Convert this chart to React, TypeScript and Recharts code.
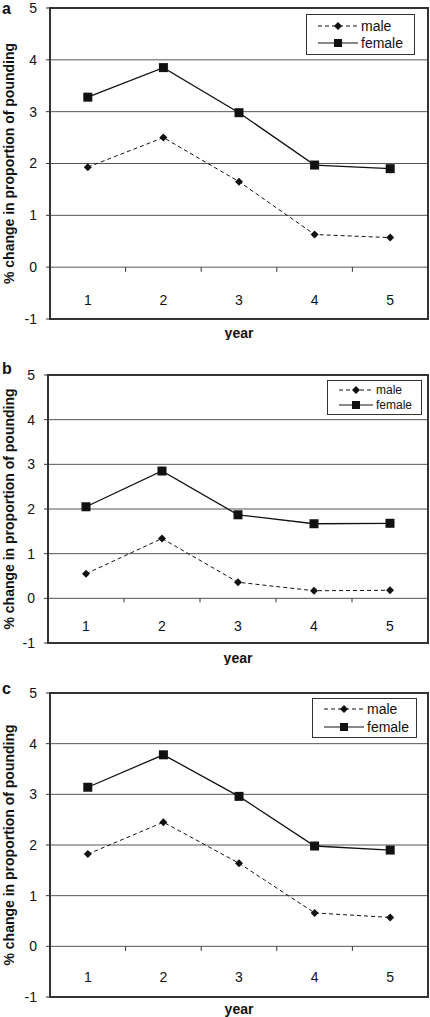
import React from 'react';
import {
  LineChart,
  Line,
  XAxis,
  YAxis,
  CartesianGrid,
  Legend,
  ReferenceArea,
  ReferenceLine,
} from 'recharts';

// values (a, b, c)
const YEARS = [1, 2, 3, 4, 5];
const Y_TICKS = [-1, 0, 1, 2, 3, 4, 5];
const MALE_A = [1.93, 2.5, 1.65, 0.63, 0.57];
const FEMALE_A = [3.28, 3.85, 2.98, 1.97, 1.9];
const MALE_B = [0.55, 1.34, 0.36, 0.17, 0.18];
const FEMALE_B = [2.05, 2.85, 1.87, 1.67, 1.68];
const MALE_C = [1.82, 2.45, 1.64, 0.66, 0.57];
const FEMALE_C = [3.14, 3.78, 2.96, 1.98, 1.9];
const Y_TITLE = '% change in proportion of pounding';
const X_TITLE = 'year';

const FONT = '"Liberation Sans", Arial, sans-serif';
const INK = '#111';

// tick marks sit between the years on the zero line
const BOUNDARIES = YEARS.slice(1).map((y) => y - 0.5);

const Diamond = (props: any) => {
  const { cx, cy } = props;
  if (cx == null || cy == null) return null;
  const r = 4;
  return (
    <polygon
      points={`${cx},${cy - r} ${cx + r},${cy} ${cx},${cy + r} ${cx - r},${cy}`}
      fill={INK}
    />
  );
};

const Square = (props: any) => {
  const { cx, cy } = props;
  if (cx == null || cy == null) return null;
  return <rect x={cx - 4.5} y={cy - 4.5} width={9} height={9} fill={INK} />;
};

const XTick = (props: any) => {
  const { x, y, payload, shift } = props;
  return (
    <text
      x={x}
      y={y + shift}
      textAnchor="middle"
      dominantBaseline="central"
      fontSize={14}
      fontFamily={FONT}
      fill={INK}
    >
      {payload.value}
    </text>
  );
};

const YTitle = (props: any) => {
  const vb = props.viewBox || { x: 0, y: 0, width: 50, height: 300 };
  const cx = 9;
  const cy = vb.y + vb.height / 2;
  return (
    <text
      x={cx}
      y={cy}
      transform={`rotate(-90 ${cx} ${cy})`}
      textAnchor="middle"
      dominantBaseline="central"
      fontSize={14}
      fontWeight="bold"
      fontFamily={FONT}
      fill={INK}
    >
      {Y_TITLE}
    </text>
  );
};

const XTitle = (props: any) => {
  const vb = props.viewBox || { x: 0, y: 0, width: 0, height: 0 };
  return (
    <text
      x={vb.x + vb.width / 2}
      y={vb.y + props.gap}
      textAnchor="middle"
      dominantBaseline="central"
      fontSize={14}
      fontWeight="bold"
      fontFamily={FONT}
      fill={INK}
    >
      {X_TITLE}
    </text>
  );
};

const LegendBox = (props: any) => {
  const { fontSize, sample } = props;
  const rows = [
    { label: 'male', dash: '4 3', marker: 'diamond' },
    { label: 'female', dash: undefined, marker: 'square' },
  ];
  return (
    <div
      style={{
        border: '1px solid #333',
        background: '#fff',
        boxSizing: 'border-box',
        width: '100%',
        height: '100%',
        display: 'flex',
        flexDirection: 'column',
        justifyContent: 'space-evenly',
        paddingLeft: 11,
        fontFamily: FONT,
        fontSize,
        color: INK,
      }}
    >
      {rows.map((r) => (
        <div key={r.label} style={{ display: 'flex', alignItems: 'center', lineHeight: 1 }}>
          <svg width={sample} height={10} style={{ marginRight: 3 }}>
            <line x1={0} y1={5} x2={sample} y2={5} stroke={INK} strokeWidth={1.2} strokeDasharray={r.dash} />
            {r.marker === 'diamond' ? (
              <polygon
                points={`${sample / 2},1 ${sample / 2 + 4},5 ${sample / 2},9 ${sample / 2 - 4},5`}
                fill={INK}
              />
            ) : (
              <rect x={sample / 2 - 4} y={1} width={8} height={8} fill={INK} />
            )}
          </svg>
          <span>{r.label}</span>
        </div>
      ))}
    </div>
  );
};

type PanelProps = {
  letter: string;
  top: number;
  height: number;
  marginTop: number;
  axisHeight: number;
  left: number;
  male: number[];
  female: number[];
  tickShift: number;
  titleGap: number;
  legend: { left: number; top: number; width: number; height: number; fontSize: number; sample: number };
  letterTop: number;
};

function Panel(p: PanelProps) {
  const data = YEARS.map((year, i) => ({ year, male: p.male[i], female: p.female[i] }));
  return (
    <div style={{ position: 'absolute', left: 0, top: p.top, width: 430, height: p.height }}>
      <div
        style={{
          position: 'absolute',
          left: 2,
          top: p.letterTop,
          fontFamily: FONT,
          fontWeight: 'bold',
          fontSize: 16,
          color: INK,
          zIndex: 2,
        }}
      >
        {p.letter}
      </div>
      <LineChart
        width={430}
        height={p.height}
        data={data}
        margin={{ top: p.marginTop, right: 2, bottom: 0, left: p.left - 50 }}
      >
        <CartesianGrid horizontal vertical={false} stroke="#555" strokeWidth={1} />
        <XAxis
          dataKey="year"
          type="number"
          domain={[0.5, 5.5]}
          ticks={YEARS}
          height={p.axisHeight}
          axisLine={false}
          tickLine={false}
          tick={<XTick shift={p.tickShift} />}
          label={<XTitle gap={p.titleGap} />}
        />
        <YAxis
          domain={[-1, 5]}
          ticks={Y_TICKS}
          width={50}
          axisLine={false}
          tickLine={{ stroke: '#333' }}
          tickSize={4}
          tickMargin={9}
          tick={{ fontSize: 14, fontFamily: FONT, fill: INK }}
          label={<YTitle />}
        />
        {BOUNDARIES.map((b) => (
          <ReferenceLine
            key={b}
            segment={[
              { x: b, y: 0 },
              { x: b, y: -0.09 },
            ]}
            stroke="#333"
            strokeWidth={1}
          />
        ))}
        <ReferenceArea x1={0.5} x2={5.5} y1={-1} y2={5} fill="none" stroke="#333" strokeWidth={2} />
        <Line
          dataKey="male"
          name="male"
          stroke={INK}
          strokeWidth={1}
          strokeDasharray="4 3"
          dot={<Diamond />}
          isAnimationActive={false}
        />
        <Line
          dataKey="female"
          name="female"
          stroke={INK}
          strokeWidth={1.3}
          dot={<Square />}
          isAnimationActive={false}
        />
        <Legend
          layout="vertical"
          align="center"
          verticalAlign="middle"
          wrapperStyle={{
            left: p.legend.left,
            top: p.legend.top,
            width: p.legend.width,
            height: p.legend.height,
          }}
          content={<LegendBox fontSize={p.legend.fontSize} sample={p.legend.sample} />}
        />
      </LineChart>
    </div>
  );
}

export default function App() {
  return (
    <div style={{ position: 'absolute', left: 0, top: 0, width: 430, height: 1017, background: '#fff' }}>
      <Panel
        letter="a"
        top={0}
        height={340}
        marginTop={8}
        axisHeight={21}
        left={50}
        male={MALE_A}
        female={FEMALE_A}
        tickShift={-27}
        titleGap={14}
        letterTop={0}
        legend={{ left: 306, top: 14, width: 109, height: 41, fontSize: 14, sample: 40 }}
      />
      <Panel
        letter="b"
        top={345}
        height={320}
        marginTop={30}
        axisHeight={22}
        left={48}
        male={MALE_B}
        female={FEMALE_B}
        tickShift={-25}
        titleGap={15}
        letterTop={15}
        legend={{ left: 327, top: 35, width: 95, height: 35, fontSize: 12, sample: 34 }}
      />
      <Panel
        letter="c"
        top={670}
        height={347}
        marginTop={23}
        axisHeight={20}
        left={50}
        male={MALE_C}
        female={FEMALE_C}
        tickShift={-28}
        titleGap={12}
        letterTop={10}
        legend={{ left: 312, top: 28, width: 105, height: 40, fontSize: 14, sample: 40 }}
      />
    </div>
  );
}
